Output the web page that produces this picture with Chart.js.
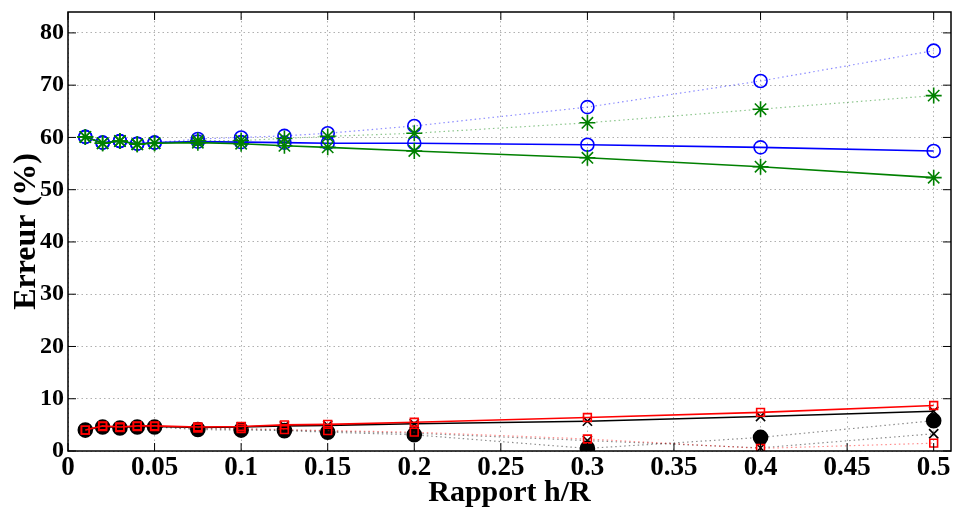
<!DOCTYPE html>
<html>
<head>
<meta charset="utf-8">
<script src="https://cdn.jsdelivr.net/npm/chart.js@4/dist/chart.umd.min.js"></script>
<style>
  body { margin: 0; background: #fff; }
  canvas { display: block; }
</style>
</head>
<body>
<canvas id="chart-erreur" width="956" height="509"></canvas>
<script>
// rapport h/R (abscisses)
const hR = [0.01, 0.02, 0.03, 0.04, 0.05, 0.075, 0.1, 0.125, 0.15, 0.2, 0.3, 0.4, 0.5];

// erreurs (%)
const bleuPlein     = [60.1, 59.0, 59.3, 58.8, 59.0, 59.2, 59.1, 59.0, 58.9, 58.9, 58.6, 58.1, 57.4];
const bleuPointille = [60.1, 59.0, 59.3, 58.8, 59.0, 59.7, 60.0, 60.3, 60.8, 62.2, 65.8, 70.8, 76.6];
const vertPlein     = [60.1, 58.9, 59.3, 58.7, 58.9, 59.0, 58.8, 58.4, 58.1, 57.4, 56.1, 54.4, 52.3];
const vertPointille = [60.1, 58.9, 59.3, 58.7, 58.9, 59.4, 59.4, 59.8, 60.2, 60.8, 62.8, 65.4, 68.0];
const rougePlein     = [4.0, 4.8, 4.6, 4.8, 4.8, 4.6, 4.7, 5.0, 5.1, 5.5, 6.4, 7.4, 8.7];
const rougePointille = [4.0, 4.7, 4.5, 4.7, 4.7, 4.4, 4.3, 4.1, 3.9, 3.6, 2.3, 0.5, 1.5];
const noirPlein      = [4.0, 4.7, 4.5, 4.7, 4.7, 4.5, 4.6, 4.8, 4.9, 5.2, 5.7, 6.6, 7.6];
const noirCroix      = [4.0, 4.7, 4.5, 4.7, 4.7, 4.3, 4.2, 4.0, 3.8, 3.4, 2.0, 0.6, 3.3];
const noirRond       = [4.0, 4.6, 4.4, 4.6, 4.6, 4.1, 4.0, 3.9, 3.6, 3.1, 0.5, 2.6, 5.8];

// graduations
const xTicks = [0, 0.05, 0.1, 0.15, 0.2, 0.25, 0.3, 0.35, 0.4, 0.45, 0.5];
const xTickLabels = ["0", "0.05", "0.1", "0.15", "0.2", "0.25", "0.3", "0.35", "0.4", "0.45", "0.5"];
const yTicks = [0, 10, 20, 30, 40, 50, 60, 70, 80];

const police = "'Liberation Serif', 'Times New Roman', serif";

function serie(valeurs, couleur, style, pointille, opts) {
  return Object.assign({
    data: hR.map((x, i) => ({ x: x, y: valeurs[i] })),
    borderColor: pointille ? couleur.replace("1)", "0.45)") : couleur,
    borderWidth: pointille ? 1.2 : 1.6,
    borderDash: pointille ? [1.5, 3] : [],
    pointStyle: style,
    pointRadius: 6.5,
    pointBorderColor: couleur,
    pointBackgroundColor: "rgba(0,0,0,0)",
    pointBorderWidth: 1.6,
    tension: 0,
  }, opts || {});
}

// cadre + graduations vers l'intérieur (style MATLAB)
const cadre = {
  id: "cadre",
  afterDraw(chart) {
    const { ctx, chartArea: a, scales } = chart;
    ctx.save();
    ctx.strokeStyle = "#000";
    ctx.lineWidth = 1.5;
    ctx.strokeRect(a.left, a.top, a.right - a.left, a.bottom - a.top);
    ctx.lineWidth = 1;
    ctx.beginPath();
    xTicks.forEach((v) => {
      const px = scales.x.getPixelForValue(v);
      ctx.moveTo(px, a.bottom); ctx.lineTo(px, a.bottom - 8);
      ctx.moveTo(px, a.top); ctx.lineTo(px, a.top + 8);
    });
    yTicks.forEach((v) => {
      const py = scales.y.getPixelForValue(v);
      ctx.moveTo(a.left, py); ctx.lineTo(a.left + 8, py);
      ctx.moveTo(a.right, py); ctx.lineTo(a.right - 8, py);
    });
    ctx.stroke();
    ctx.restore();
  },
};

new Chart(document.getElementById("chart-erreur"), {
  type: "line",
  data: {
    datasets: [
      serie(vertPlein, "rgba(0,128,0,1)", "star", false, { pointRadius: 8 }),
      serie(vertPointille, "rgba(0,128,0,1)", "star", true, { pointRadius: 8 }),
      serie(bleuPlein, "rgba(0,0,255,1)", "circle", false),
      serie(bleuPointille, "rgba(0,0,255,1)", "circle", true),
      serie(rougePlein, "rgba(255,0,0,1)", "rect", false, { pointRadius: 5.5 }),
      serie(rougePointille, "rgba(255,0,0,1)", "rect", true, { pointRadius: 5.5 }),
      serie(noirPlein, "rgba(0,0,0,1)", "crossRot", false),
      serie(noirCroix, "rgba(0,0,0,1)", "crossRot", true),
      serie(noirRond, "rgba(0,0,0,1)", "circle", true, { pointBackgroundColor: "#000", pointRadius: 7 }),
    ],
  },
  options: {
    responsive: false,
    animation: false,
    layout: { autoPadding: false, padding: { top: 12, right: 5, left: 0, bottom: 0 } },
    plugins: { legend: { display: false }, tooltip: { enabled: false } },
    scales: {
      x: {
        type: "linear",
        min: 0,
        max: 0.51,
        afterBuildTicks: (s) => { s.ticks = xTicks.map((v) => ({ value: v })); },
        afterFit: (s) => { s.height = 58; s.paddingLeft = 0; s.paddingRight = 0; },
        ticks: {
          callback: (v) => xTickLabels[xTicks.indexOf(v)],
          color: "#000",
          font: { family: police, size: 27, weight: "bold", lineHeight: 1 },
          padding: 4,
          maxRotation: 0,
          autoSkip: false,
        },
        grid: { color: "#b0b0b0", lineWidth: 1, drawTicks: false },
        border: { display: false, dash: [1.5, 3] },
        title: {
          display: true,
          text: "Rapport h/R",
          color: "#000",
          font: { family: police, size: 30, weight: "bold", lineHeight: 1 },
          padding: { top: 0, bottom: 1 },
        },
      },
      y: {
        min: 0,
        max: 84,
        afterBuildTicks: (s) => { s.ticks = yTicks.map((v) => ({ value: v })); },
        afterFit: (s) => { s.width = 68; s.paddingTop = 0; s.paddingBottom = 0; },
        ticks: {
          color: "#000",
          font: { family: police, size: 24, weight: "bold" },
          padding: 4,
        },
        grid: { color: "#b0b0b0", lineWidth: 1, drawTicks: false },
        border: { display: false, dash: [1.5, 3] },
        title: {
          display: true,
          text: "Erreur (%)",
          color: "#000",
          font: { family: police, size: 32, weight: "bold", lineHeight: 1 },
          padding: { top: 11, bottom: 0 },
        },
      },
    },
  },
  plugins: [cadre],
});
</script>
</body>
</html>
